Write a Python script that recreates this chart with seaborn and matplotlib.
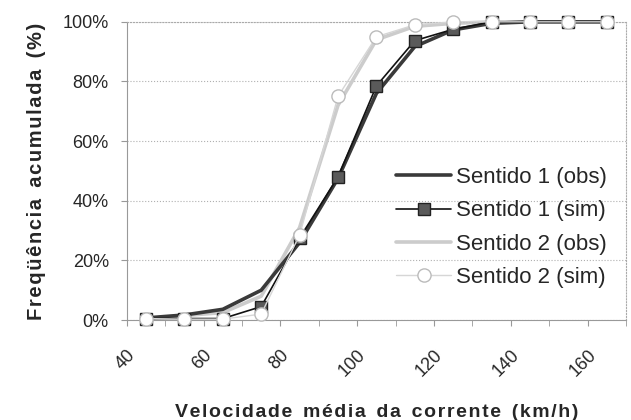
import numpy as np
import pandas as pd
import matplotlib
matplotlib.use("Agg")
import matplotlib.pyplot as plt
import seaborn as sns
from matplotlib.ticker import MultipleLocator, PercentFormatter

# Data
velocidade = [45, 55, 65, 75, 85, 95, 105, 115, 125, 135, 145, 155, 165]
s1_obs = [0.7, 1.7, 3.6, 10.0, 26.0, 47.5, 76.0, 91.7, 97.3, 99.5, 100, 100, 100]
s1_sim = [0.5, 0.5, 0.5, 4.5, 27.5, 48.0, 78.5, 93.7, 97.5, 100, 100, 100, 100]
s2_obs = [0.5, 1.5, 2.5, 8.0, 31.0, 72.0, 94.0, 98.5, 99.5, 100, 100, 100, 100]
s2_sim = [0.5, 0.3, 0.3, 2.0, 28.5, 75.0, 95.0, 99.0, 100, 100, 100, 100, 100]

sns.set_style("white")
plt.rcParams['font.family'] = ['Liberation Sans', 'DejaVu Sans']

fig = plt.figure(figsize=(6.31, 4.2), dpi=100)
ax = fig.add_axes([0.201, 0.238, 0.791, 0.71])

sns.lineplot(x=velocidade, y=s1_obs, ax=ax, color="#3a3a3a", linewidth=2.6,
             label="Sentido 1 (obs)", zorder=3, clip_on=False)
sns.lineplot(x=velocidade, y=s1_sim, ax=ax, color="#111111", linewidth=1.2,
             marker="s", markersize=8.5, markerfacecolor="#5a5a5a",
             markeredgecolor="#222222", markeredgewidth=1,
             label="Sentido 1 (sim)", zorder=4, clip_on=False)
sns.lineplot(x=velocidade, y=s2_obs, ax=ax, color="#cccccc", linewidth=2.6,
             label="Sentido 2 (obs)", zorder=2, clip_on=False)
sns.lineplot(x=velocidade, y=s2_sim, ax=ax, color="#d6d6d6", linewidth=1.0,
             marker="o", markersize=9.5, markerfacecolor="white",
             markeredgecolor="#bbbbbb", markeredgewidth=1,
             label="Sentido 2 (sim)", zorder=5, clip_on=False)

ax.set_xlim(40, 170)
ax.set_ylim(0, 100)
ax.xaxis.set_major_locator(MultipleLocator(20))
ax.xaxis.set_minor_locator(MultipleLocator(10))
ax.yaxis.set_major_locator(MultipleLocator(20))
ax.yaxis.set_major_formatter(PercentFormatter(decimals=0))

ax.grid(axis="y", linestyle=":", color="#b0b0b0", linewidth=0.8)
for side in ["top", "right"]:
    ax.spines[side].set_linestyle(":")
    ax.spines[side].set_color("#aaaaaa")
    ax.spines[side].set_linewidth(0.8)
for side in ["left", "bottom"]:
    ax.spines[side].set_color("#999999")
    ax.spines[side].set_linewidth(0.8)

ax.tick_params(axis="x", which="both", direction="out", length=4, color="#999999",
               bottom=True, pad=15)
ax.tick_params(axis="y", which="major", direction="out", length=4, color="#999999",
               left=True, labelsize=13, pad=9)
plt.setp(ax.get_xticklabels(), rotation=45, ha="right", rotation_mode="anchor",
         fontsize=13)

# spread the letters a little, like the original
xlab = "\u200a".join("Velocidade média da corrente (km/h)").replace("\u200a \u200a", "  ")
ylab = "\u200a".join("Freqüência acumulada (%)").replace("\u200a \u200a", "  ")
ax.set_xlabel(xlab, fontsize=14, fontweight="bold")
ax.xaxis.set_label_coords(0.5, -0.28)
ax.set_ylabel(ylab, fontsize=14.5, fontweight="bold", labelpad=12)

leg = ax.legend(loc="center left", bbox_to_anchor=(0.499, 0.31), frameon=False,
                fontsize=16, handlelength=2.5, handletextpad=0.22, labelspacing=0.55)

fig.savefig("out.png", dpi=100)
